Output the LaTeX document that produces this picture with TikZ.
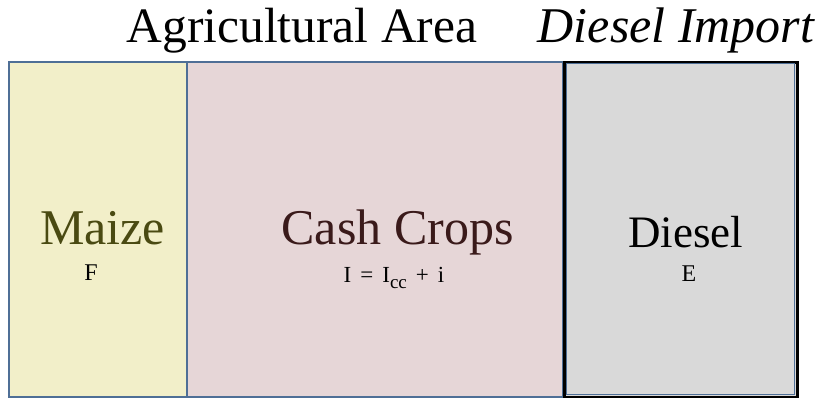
\documentclass[tikz,border=0pt]{standalone}
\usepackage{fontspec}
\setmainfont{Liberation Serif}
\usepackage{xcolor}
\usetikzlibrary{positioning}
\definecolor{edge}{HTML}{4F6F96}
\definecolor{maizefill}{HTML}{F2EFC9}
\definecolor{cashfill}{HTML}{E6D6D7}
\definecolor{dieselfill}{HTML}{D9D9D9}
\definecolor{maizetext}{HTML}{4A4A12}
\definecolor{cashtext}{HTML}{3A1A1A}
\tikzset{
  area/.style={draw=edge, line width=1.6pt, anchor=north west, inner sep=0pt,
               minimum height=335pt},
  bigtext/.style={anchor=base, inner sep=0pt, font=\fontsize{50}{50}\selectfont},
  smalltext/.style={anchor=base, inner sep=0pt, font=\fontsize{24}{24}\selectfont}
}
\begin{document}
\begin{tikzpicture}[x=1pt,y=-1pt]
    \useasboundingbox (0,0) rectangle (821,398);
    % titles
    \node[bigtext,font=\fontsize{49.5}{50}\selectfont] (agri) at (302,43) {Agricultural Area};
    \node[bigtext,font=\fontsize{50}{50}\selectfont\itshape] (imp) at (676,43) {Diesel Import};

    % areas
    \node[area,fill=maizefill,minimum width=178pt] (maize) at (8,61) {};
    \node[area,fill=cashfill,minimum width=376pt] (cash) at (186,61) {};
    \node[area,draw=black,line width=3pt,fill=dieselfill,minimum width=233pt] (diesel) at (563,61) {};
    \node[area,fill=none,line width=1pt,minimum width=228pt,minimum height=330pt] (dieselin) at (565.5,63.5) {};

    % labels
    \node[bigtext,text=maizetext] (lm) at (102.5,244) {Maize};
    \node[smalltext] (lf) at (91,280) {F};
    \node[bigtext,text=cashtext] (lc) at (397.5,244) {Cash Crops};
    \node[smalltext,font=\fontsize{23}{23}\selectfont] (li) at (394,282)
      {\spaceskip=9pt I = I\raisebox{-6pt}{\fontsize{19}{19}\selectfont cc} + i};
    \node[bigtext,font=\fontsize{45}{45}\selectfont] (ld) at (685.5,247) {Diesel};
    \node[smalltext] (le) at (689,281) {E};
  \end{tikzpicture}
\end{document}
